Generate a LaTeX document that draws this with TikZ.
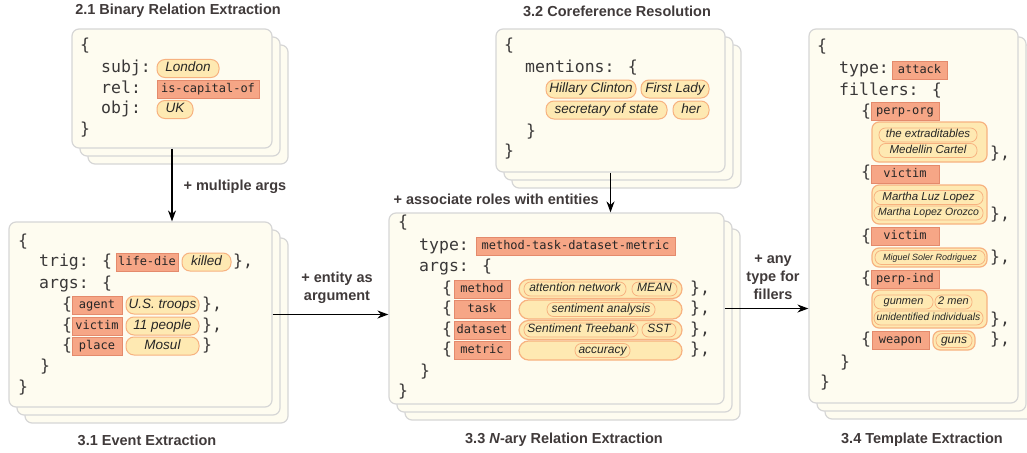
\documentclass[tikz,border=0pt]{standalone}
\usepackage{fontspec}
\setmainfont{Liberation Sans}
\newfontfamily\monofont{DejaVu Sans Mono}
\usetikzlibrary{arrows.meta}

\definecolor{cardfill}{RGB}{254,252,240}
\definecolor{cardline}{RGB}{214,214,214}
\definecolor{tagfill}{RGB}{246,166,134}
\definecolor{tagline}{RGB}{228,138,108}
\definecolor{pillfill}{RGB}{254,233,178}
\definecolor{pillline}{RGB}{247,178,128}
\definecolor{codegray}{RGB}{58,56,56}
\definecolor{titlegray}{RGB}{64,58,58}

\newcommand{\codefont}{\monofont\fontsize{16.5}{20}\selectfont}
\newcommand{\tagfont}{\monofont\fontsize{12}{14}\selectfont}
\newcommand{\pillfont}[1]{\itshape\fontsize{#1}{#1}\selectfont}
\newcommand{\headfont}{\bfseries\fontsize{14.5}{18}\selectfont}

\tikzset{
  card/.style={draw=cardline, fill=cardfill, line width=1.2pt, rounded corners=7pt, inner sep=0pt},
  code/.style={anchor=west, inner sep=0pt, text=codegray, font=\codefont, text height=12pt, text depth=4pt},
  tag/.style={draw=tagline, fill=tagfill, line width=0.8pt, inner sep=0pt, minimum height=18pt,
    text=black!85, font=\tagfont, text height=9pt, text depth=2.5pt},
  pill/.style={draw=pillline, fill=pillfill, line width=1pt, rounded corners=8pt, inner sep=0pt,
    minimum height=18pt, text=black!85, font=\pillfont{13.5}, text height=9.5pt, text depth=3pt},
  minipill/.style={pill, minimum height=14pt, rounded corners=6.5pt, line width=0.8pt,
    font=\pillfont{12}, text height=8pt, text depth=2.5pt},
  box/.style={draw=pillline, fill=pillfill, line width=1.2pt, rounded corners=7pt, inner sep=0pt},
  heading/.style={font=\headfont, text=titlegray},
  lbl/.style={font=\headfont, text=titlegray, align=center},
  arr/.style={-{Stealth[length=11pt, width=8pt]}, line width=1.4pt},
}

\begin{document}
\begin{tikzpicture}[x=1pt, y=-1pt]
  \useasboundingbox (0,0) rectangle (1027,452);

  % cards
  \foreach \d in {16,8} {
    \node[card, minimum width=200pt, minimum height=119pt] (bre-\d) at (172+\d,88.5+\d) {};
    \node[card, minimum width=263pt, minimum height=185pt] (evt-\d) at (140.5+\d,314.5+\d) {};
    \node[card, minimum width=229pt, minimum height=143pt] (coref-\d) at (610.5+\d,100.5+\d) {};
    \node[card, minimum width=335pt, minimum height=191pt] (nary-\d) at (556.5+\d,308.5+\d) {};
    \node[card, minimum width=209pt, minimum height=374pt] (tmpl-\d) at (913.5+\d,216+\d) {};
  }
  \node[card, minimum width=200pt, minimum height=119pt] (bre) at (172,88.5) {};
  \node[card, minimum width=263pt, minimum height=185pt] (evt) at (140.5,314.5) {};
  \node[card, minimum width=229pt, minimum height=143pt] (coref) at (610.5,100.5) {};
  \node[card, minimum width=335pt, minimum height=191pt] (nary) at (556.5,308.5) {};
  \node[card, minimum width=209pt, minimum height=374pt] (tmpl) at (913.5,216) {};

  % 2.1 binary relation
  \node[code] (bre-o) at (80,47) {\{};
  \node[code] (bre-subj) at (101,69) {subj:};
  \node[pill, minimum width=62pt] (bre-london) at (188,68.5) {London};
  \node[code] (bre-rel) at (101,89) {rel:};
  \node[tag, minimum width=102pt] (bre-capital) at (208,89.5) {is-capital-of};
  \node[code] (bre-obj) at (101,109) {obj:};
  \node[pill, minimum width=36pt] (bre-uk) at (175,109.5) {UK};
  \node[code] (bre-c) at (80,130) {\}};

  % 3.1 event
  \node[code] (evt-o) at (18,242) {\{};
  \node[code] (evt-trig) at (39,262) {trig: \{};
  \node[tag, minimum width=62pt] (evt-lifedie) at (147,262) {life-die};
  \node[pill, minimum width=49pt] (evt-killed) at (206.5,262) {killed};
  \node[code] (evt-trigc) at (233,262) {\},};
  \node[code] (evt-args) at (39,284) {args: \{};
  \node[code] (evt-ao) at (62,305) {\{};
  \node[tag, minimum width=50pt] (evt-agent) at (97,305) {agent};
  \node[pill, minimum width=73pt] (evt-troops) at (162.5,305) {U.S. troops};
  \node[code] (evt-ac) at (202,305) {\},};
  \node[code] (evt-vo) at (62,326) {\{};
  \node[tag, minimum width=50pt] (evt-victim) at (97,326) {victim};
  \node[pill, minimum width=73pt] (evt-people) at (162.5,326) {11 people};
  \node[code] (evt-vc) at (202,326) {\},};
  \node[code] (evt-po) at (62,346) {\{};
  \node[tag, minimum width=50pt] (evt-place) at (97,346) {place};
  \node[pill, minimum width=73pt] (evt-mosul) at (162.5,346) {Mosul};
  \node[code] (evt-pc) at (202,346) {\}};
  \node[code] (evt-argsc) at (40,367) {\}};
  \node[code] (evt-c) at (18,388) {\}};

  % 3.2 coreference
  \node[code] (coref-o) at (504,47) {\{};
  \node[code] (coref-ment) at (525,68) {mentions: \{};
  \node[pill, minimum width=90pt] (coref-hillary) at (591,89) {Hillary Clinton};
  \node[pill, minimum width=68pt] (coref-lady) at (675,89) {First Lady};
  \node[pill, minimum width=121pt] (coref-sec) at (606.5,110) {secretary of state};
  \node[pill, minimum width=36pt] (coref-her) at (691,110) {her};
  \node[code] (coref-mentc) at (526,132) {\}};
  \node[code] (coref-c) at (504,152) {\}};

  % 3.3 n-ary relation
  \node[code] (nary-o) at (398,223) {\{};
  \node[code] (nary-type) at (419,246) {type:};
  \node[tag, minimum width=199pt] (nary-mtdm) at (575.5,246) {method-task-dataset-metric};
  \node[code] (nary-args) at (419,267) {args: \{};
  \node[code] (nary-mo) at (442,289) {\{};
  \node[tag, minimum width=56pt] (nary-method) at (482,289) {method};
  \node[box, rounded corners=9.5pt, minimum width=163pt, minimum height=19pt] (nary-mbox) at (600.5,289) {};
  \node[minipill, minimum width=102pt] (nary-attn) at (575,289) {attention network};
  \node[minipill, minimum width=45pt] (nary-mean) at (654.5,289) {MEAN};
  \node[code] (nary-mc) at (690,289) {\},};
  \node[code] (nary-to) at (442,309.5) {\{};
  \node[tag, minimum width=56pt] (nary-task) at (482,309.5) {task};
  \node[box, rounded corners=9.5pt, minimum width=163pt, minimum height=19pt] (nary-tbox) at (600.5,309.5) {};
  \node[minipill, minimum width=108pt] (nary-senti) at (601,309.5) {sentiment analysis};
  \node[code] (nary-tc) at (690,309.5) {\},};
  \node[code] (nary-do) at (442,330) {\{};
  \node[tag, minimum width=56pt] (nary-dataset) at (482,330) {dataset};
  \node[box, rounded corners=9.5pt, minimum width=163pt, minimum height=19pt] (nary-dbox) at (600.5,330) {};
  \node[minipill, minimum width=114pt] (nary-treebank) at (581,330) {Sentiment Treebank};
  \node[minipill, minimum width=34pt] (nary-sst) at (659,330) {SST};
  \node[code] (nary-dc) at (690,330) {\},};
  \node[code] (nary-xo) at (442,350.5) {\{};
  \node[tag, minimum width=56pt] (nary-metric) at (482,350.5) {metric};
  \node[box, rounded corners=9.5pt, minimum width=163pt, minimum height=19pt] (nary-xbox) at (600.5,350.5) {};
  \node[minipill, minimum width=55pt] (nary-acc) at (602.5,350.5) {accuracy};
  \node[code] (nary-xc) at (690,350.5) {\},};
  \node[code] (nary-argsc) at (420,372) {\}};
  \node[code] (nary-c) at (398,392) {\}};

  % 3.4 template
  \node[code] (tmpl-o) at (817,48) {\{};
  \node[code] (tmpl-type) at (839,70) {type:};
  \node[tag, minimum width=55pt] (tmpl-attack) at (919.5,70) {attack};
  \node[code] (tmpl-fill) at (839,91) {fillers: \{};
  \node[code] (tmpl-g1o) at (861,112) {\{};
  \node[tag, minimum width=68pt] (tmpl-perporg) at (905,111) {perp-org};
  \node[box, minimum width=115pt, minimum height=40pt] (tmpl-g1box) at (929.5,142) {};
  \node[minipill, minimum width=98pt, font=\pillfont{11.5}] (tmpl-extra) at (928,135) {the extraditables};
  \node[minipill, minimum width=98pt, font=\pillfont{11.5}] (tmpl-medellin) at (928,150.5) {Medellin Cartel};
  \node[code] (tmpl-g1c) at (990,154) {\},};
  \node[code] (tmpl-g2o) at (861,173) {\{};
  \node[tag, minimum width=68pt] (tmpl-victim1) at (905,174) {victim};
  \node[box, minimum width=115pt, minimum height=39pt] (tmpl-g2box) at (929.5,204.5) {};
  \node[minipill, minimum width=109pt, font=\pillfont{11.5}] (tmpl-luz) at (928.5,197.5) {Martha Luz Lopez};
  \node[minipill, minimum width=109pt, font=\pillfont{10.5}] (tmpl-orozco) at (928.5,213) {Martha Lopez Orozco};
  \node[code] (tmpl-g2c) at (990,215) {\},};
  \node[code] (tmpl-g3o) at (861,237) {\{};
  \node[tag, minimum width=68pt] (tmpl-victim2) at (905,236.5) {victim};
  \node[box, minimum width=115pt, minimum height=19pt] (tmpl-g3box) at (929.5,257.5) {};
  \node[minipill, minimum width=110pt, font=\pillfont{9}] (tmpl-miguel) at (930,257.5) {Miguel Soler Rodriguez};
  \node[code] (tmpl-g3c) at (990,258) {\},};
  \node[code] (tmpl-g4o) at (861,279) {\{};
  \node[tag, minimum width=68pt] (tmpl-perpind) at (905,279) {perp-ind};
  \node[box, minimum width=115pt, minimum height=38pt] (tmpl-g4box) at (929.5,309) {};
  \node[minipill, minimum width=59pt, font=\pillfont{11}] (tmpl-gunmen) at (903.5,302) {gunmen};
  \node[minipill, minimum width=37pt, font=\pillfont{11}] (tmpl-twomen) at (953.5,302) {2 men};
  \node[minipill, minimum width=109pt, font=\pillfont{10.3}] (tmpl-unid) at (928.5,318) {unidentified individuals};
  \node[code] (tmpl-g4c) at (990,320) {\},};
  \node[code] (tmpl-g5o) at (861,340) {\{};
  \node[tag, minimum width=57pt] (tmpl-weapon) at (900.5,340.5) {weapon};
  \node[box, minimum width=42pt, minimum height=19pt] (tmpl-g5box) at (954,340.5) {};
  \node[minipill, minimum width=36pt, font=\pillfont{12}] (tmpl-guns) at (954,340.5) {guns};
  \node[code] (tmpl-g5c) at (990,340) {\},};
  \node[code] (tmpl-fillc) at (840,363) {\}};
  \node[code] (tmpl-c) at (820,383) {\}};

  % titles
  \node[heading] (bre-title) at (178,11) {2.1 Binary Relation Extraction};
  \node[heading] (coref-title) at (617,11) {3.2 Coreference Resolution};
  \node[heading] (evt-title) at (147,440) {3.1 Event Extraction};
  \node[heading] (nary-title) at (564,440) {3.3 \textit{N}-ary Relation Extraction};
  \node[heading] (tmpl-title) at (922,440) {3.4 Template Extraction};

  % arrows
  \draw[arr] (bre.south) -- (bre.south |- evt.north);
  \draw[arr] (evt.east) -- (evt.east -| nary.west);
  \draw[arr] (coref.south) -- (coref.south |- nary.north);
  \draw[arr] (nary.east) -- (nary.east -| tmpl.west);
  \node[lbl, anchor=west] (multi) at (180,187) {+ multiple args};
  \node[lbl] (entarg) at (337,288) {+ entity as\\argument};
  \node[lbl, anchor=west] (assoc) at (390,199) {+ associate roles with entities};
  \node[lbl] (anytype) at (773,277) {+ any\\type for\\fillers};
\end{tikzpicture}
\end{document}
